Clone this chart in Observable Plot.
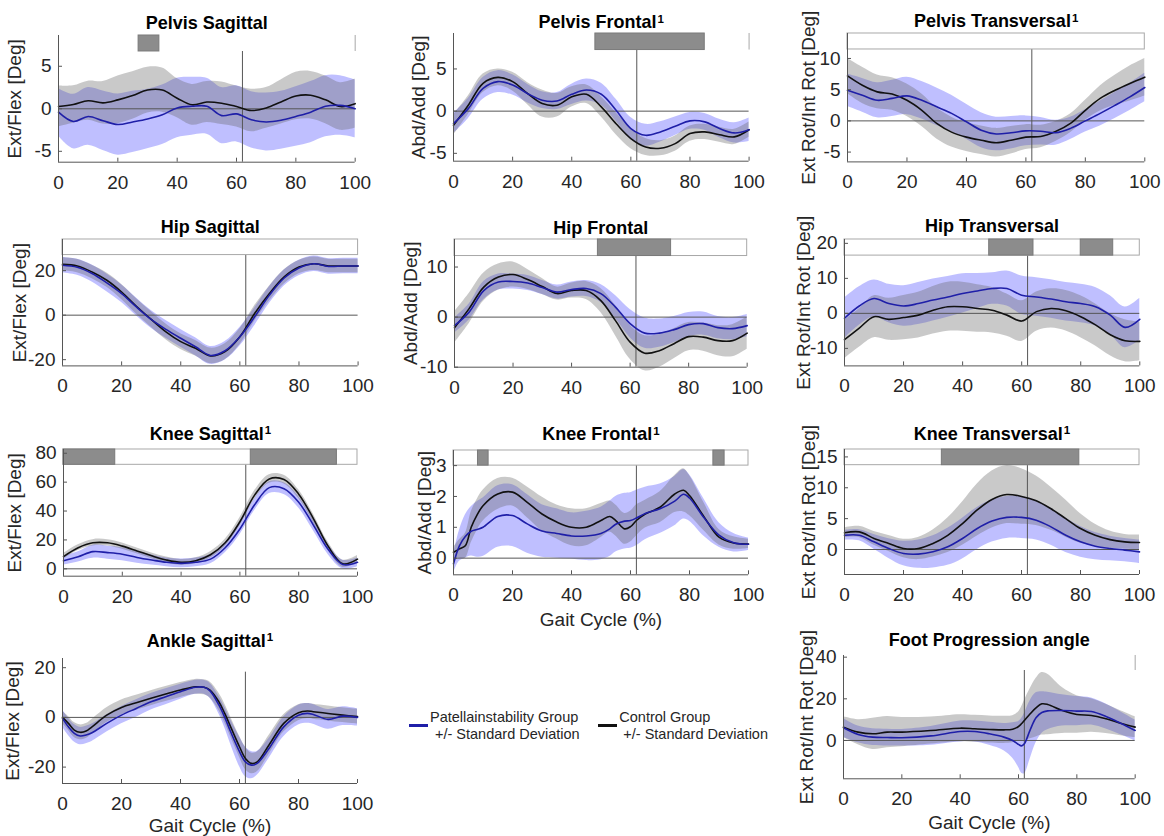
<!DOCTYPE html>
<html><head><meta charset="utf-8">
<script src="https://cdn.jsdelivr.net/npm/d3@7"></script>
<script src="https://cdn.jsdelivr.net/npm/@observablehq/plot@0.6"></script>
<style>
body{margin:0;background:#fff;}
#root{position:relative;width:1164px;height:836px;overflow:hidden;font-family:"Liberation Sans",Arial,sans-serif;background:#fff;}
.panel{position:absolute;}
.lg{position:absolute;font-size:14.5px;line-height:15px;color:#262626;white-space:nowrap;}
.sw{position:absolute;height:3px;width:19px;}
</style></head><body><div id="root"></div>
<script>
// ---------- shared axes values ----------
const gaitX = [0,5,10,15,20,25,30,35,40,45,50,55,60,65,70,75,80,85,90,95,100];
const xTicks = [0,20,40,60,80,100];
const xDomain = [0,100];
const toeOff = 62;

// ---------- Pelvis Sagittal ----------
const pelvisSagPatMean = [-0.4,-1.5,-0.9,-1.4,-1.85,-1.55,-1.2,-0.7,0.1,0.3,0.3,-0.8,-0.6,-1.3,-1.55,-1.35,-0.9,-0.4,0.3,0.4,0.0];
const pelvisSagPatSD   = [2.8,3.2,3.4,3.5,3.6,3.6,3.5,3.5,3.5,3.4,3.3,3.3,3.3,3.3,3.4,3.4,3.5,3.6,3.6,3.5,3.4];
const pelvisSagConMean = [0.27,0.5,0.95,0.7,1.05,1.56,2.2,2.2,1.25,0.47,0.8,0.66,0.27,-0.2,0.1,0.8,1.5,1.6,1.05,0.27,0.6];
const pelvisSagConSD   = [2.4,2.2,2.3,2.5,2.8,2.8,2.7,2.6,2.3,2.4,2.4,2.5,2.4,2.5,2.4,2.6,2.8,2.8,2.8,2.8,2.9];
const pelvisSagTicks = [-5,0,5];
const pelvisSagSig = [[27,34]];

// ---------- Pelvis Frontal ----------
const pelvisFrontPatMean = [-1.47,0.3,2.7,3.5,3.1,2.1,1.3,1.2,2.0,2.5,2.0,0.1,-2.06,-2.86,-2.46,-1.8,-1.15,-1.27,-2.06,-2.58,-2.2];
const pelvisFrontPatSD   = [1.2,1.2,1.3,1.3,1.2,1.1,1.0,1.0,1.2,1.3,1.3,1.3,1.3,1.3,1.2,1.1,1.0,1.0,1.1,1.2,1.4];
const pelvisFrontConMean = [-1.67,0.7,3.3,4.0,3.5,2.1,0.9,0.7,1.7,2.0,0.5,-1.5,-3.25,-4.25,-4.4,-3.85,-2.66,-2.46,-2.8,-3.05,-2.2];
const pelvisFrontConSD   = [1.2,1.1,1.1,1.0,1.1,1.3,1.6,1.4,1.2,1.1,1.2,1.3,1.2,1.0,0.9,0.9,0.9,0.9,0.9,0.9,0.9];
const pelvisFrontTicks = [-5,0,5];
const pelvisFrontSig = [[48,85]];

// ---------- Pelvis Transversal ----------
const pelvisTransPatMean = [4.9,4.1,3.3,3.6,4.0,3.3,2.25,1.2,-0.15,-1.5,-2.1,-1.9,-1.6,-1.65,-1.9,-1.2,0,1.2,2.5,3.85,5.35];
const pelvisTransPatSD   = [2.6,2.7,2.8,2.9,3.0,3.0,3.0,2.9,2.8,2.8,2.7,2.6,2.4,2.2,2.0,1.8,1.8,2.0,2.1,2.2,2.3];
const pelvisTransConMean = [7.2,5.7,4.65,4.3,3.3,1.7,-0.4,-1.8,-2.6,-3.1,-3.5,-3.1,-2.6,-2.5,-1.7,-0.4,1.7,3.6,4.9,6.0,7.0];
const pelvisTransConSD   = [2.8,2.9,2.7,2.6,2.6,2.6,2.5,2.4,2.3,2.3,2.3,2.2,2.0,1.8,1.6,1.5,1.6,2.0,2.4,2.8,3.0];
const pelvisTransTicks = [-5,0,5,10];
const pelvisTransSig = [];

// ---------- Hip Sagittal ----------
const hipSagPatMean = [22.4,21.5,18.7,14.5,9.7,3.7,-1.9,-6.4,-10.4,-14.2,-18.1,-16.0,-9.7,-0.75,9.0,16.7,21.2,23.1,21.9,22.1,22.1];
const hipSagPatSD   = [3.5,3.6,3.8,4.0,4.0,4.0,4.0,4.0,4.0,4.0,4.0,4.2,4.2,4.0,3.8,3.6,3.5,3.5,3.5,3.5,3.5];
const hipSagConMean = [22.8,22.1,19.4,15.7,10.4,4.0,-1.9,-7.5,-11.9,-14.9,-18.3,-16.4,-9.7,0.75,9.7,17.2,21.6,23.1,22.1,22.1,22.1];
const hipSagConSD   = [3.0,3.0,3.0,3.2,3.4,3.5,3.5,3.5,3.5,3.5,3.5,3.6,3.6,3.5,3.3,3.2,3.0,3.0,3.0,3.0,3.0];
const hipSagTicks = [-20,0,20];
const hipSagSig = [];

// ---------- Hip Frontal ----------
const hipFrontPatMean = [-1.7,1.0,5.3,7.0,7.1,6.8,5.9,5.0,5.5,5.7,4.7,2.0,-1.3,-3.2,-3.2,-2.5,-1.5,-1.3,-2.1,-2.3,-1.7];
const hipFrontPatSD   = [1.5,1.6,1.8,1.6,1.5,1.5,1.4,1.4,1.5,1.6,1.8,2.3,2.8,3.0,2.8,2.6,2.4,2.3,2.2,2.2,2.2];
const hipFrontConMean = [-2.1,1.7,6.0,8.0,8.5,7.5,6.1,4.7,5.3,5.3,3.3,-0.7,-5.0,-7.2,-6.7,-5.3,-3.9,-4.0,-4.7,-4.7,-3.2];
const hipFrontConSD   = [3.1,3.0,2.8,2.6,2.5,2.0,1.6,1.3,1.5,1.8,2.4,3.0,3.4,3.5,3.3,3.0,2.8,2.8,3.0,3.2,3.2];
const hipFrontTicks = [-10,0,10];
const hipFrontSig = [[49,74]];

// ---------- Hip Transversal ----------
const hipTransPatMean = [-1.4,2.1,4.25,2.8,2.1,2.8,3.8,4.7,5.7,6.4,7.1,7.1,5.2,4.7,4.1,3.3,2.8,1.9,-0.5,-4.0,-1.7];
const hipTransPatSD   = [5.8,5.5,5.3,5.5,5.8,6.0,6.0,5.8,5.6,5.0,4.5,5.0,5.5,5.5,5.5,5.5,5.5,5.5,5.5,5.8,6.0];
const hipTransConMean = [-7.5,-4.2,-0.95,-1.7,-1.2,-0.5,0.9,1.9,1.9,1.4,0.9,-0.5,-2.2,0.5,1.4,0.75,-0.95,-3.3,-6.1,-7.8,-8.0];
const hipTransConSD   = [5.5,5.5,6.0,6.0,6.3,6.5,6.8,7.0,7.0,6.8,6.5,6.0,5.8,5.6,5.6,5.8,6.0,6.0,6.0,6.0,5.5];
const hipTransTicks = [-10,0,10,20];
const hipTransSig = [[49,64],[80,91]];

// ---------- Knee Sagittal ----------
const kneeSagPatMean = [5.6,8.3,11.9,11.2,10.1,7.9,6.1,4.5,3.8,4.5,6.7,14.6,27.6,44.3,56.2,55.5,46.1,30.3,13.5,3.0,4.5];
const kneeSagPatSD   = [3.0,3.5,4.5,4.5,4.5,4.0,3.5,3.0,3.0,3.0,3.2,3.5,4.0,4.0,4.0,4.0,4.0,4.0,3.5,3.0,3.0];
const kneeSagConMean = [8.5,14.6,18.0,18.0,15.7,12.4,9.0,6.1,4.5,5.6,9.7,18.0,32.6,51.0,62.2,61.8,51.7,34.8,15.7,3.5,6.7];
const kneeSagConSD   = [2.0,2.0,2.2,2.2,2.2,2.0,2.0,2.0,2.0,2.0,2.2,2.5,2.8,3.0,3.0,3.0,3.0,3.0,2.8,2.5,2.5];
const kneeSagTicks = [0,20,40,60,80];
const kneeSagSig = [[0,17.6],[63.7,93]];

// ---------- Knee Frontal ----------
const kneeFrontX = [0,2,4,6,8,10,15,20,25,30,35,40,45,50,53,55,58,60,62,65,70,75,78,80,85,90,95,100];
const kneeFrontPatMean = [-0.18,0.4,0.7,0.87,0.93,1.0,1.35,1.38,1.11,0.88,0.8,0.72,0.72,0.8,0.95,1.1,1.2,1.22,1.3,1.45,1.6,1.85,2.07,1.95,1.3,0.75,0.5,0.45];
const kneeFrontPatSD   = [0.3,0.5,0.7,0.8,0.9,0.95,1.0,1.0,0.95,0.85,0.8,0.75,0.8,0.85,0.9,0.9,0.9,0.9,0.9,0.85,0.8,0.8,0.8,0.75,0.6,0.4,0.3,0.2];
const kneeFrontConMean = [0.19,0.3,0.4,1.0,1.4,1.7,2.08,2.14,1.81,1.43,1.17,1.0,1.0,1.22,1.35,1.22,0.95,1.02,1.22,1.43,1.65,2.08,2.2,2.03,1.33,0.68,0.49,0.46];
const kneeFrontConSD   = [0.15,0.3,0.4,0.5,0.5,0.5,0.5,0.45,0.5,0.55,0.55,0.6,0.6,0.55,0.5,0.5,0.5,0.5,0.5,0.45,0.5,0.6,0.7,0.65,0.45,0.25,0.2,0.15];
const kneeFrontTicks = [0,1,2,3];
const kneeFrontSig = [[8.3,11.9],[88.1,91.9]];

// ---------- Knee Transversal ----------
const kneeTransPatMean = [2.3,2.3,1.24,0.16,-0.65,-0.75,-0.38,0.43,1.78,3.4,4.6,5.2,5.2,4.75,3.67,2.3,1.24,0.54,0.16,-0.1,-0.38];
const kneeTransPatSD   = [0.8,0.9,1.2,1.6,2.0,2.3,2.6,3.0,3.3,3.4,3.4,3.4,3.4,3.2,3.0,2.8,2.5,2.2,2.0,1.9,1.9];
const kneeTransConMean = [2.7,2.85,1.8,0.97,0.16,0.16,0.97,2.3,4.2,6.4,8.1,8.9,8.6,7.9,6.6,5.0,3.4,2.3,1.6,1.24,1.13];
const kneeTransConSD   = [0.8,0.9,1.1,1.3,1.5,1.8,2.2,2.8,3.5,4.2,4.6,4.7,4.5,4.0,3.5,3.0,2.4,1.8,1.4,1.2,1.2];
const kneeTransTicks = [0,5,10,15];
const kneeTransSig = [[33,79.6]];

// ---------- Ankle Sagittal ----------
const ankleX = [0,2,4,6,8,10,15,20,25,30,35,40,45,48,50,53,55,57,60,62,64,66,70,75,80,83,85,90,95,100];
const anklePatMean = [-0.4,-3.8,-6.4,-7.5,-7.1,-6.2,-2.4,0.9,3.6,6.3,8.3,10.3,12.1,12.1,10.7,5.0,0,-5.8,-13.8,-17.9,-19.2,-18.5,-12.5,-3.8,0.9,1.6,1.2,-0.8,0.5,0];
const anklePatSD   = [3.5,3.5,3.5,3.5,3.5,3.5,3.5,3.5,3.5,3.3,3.2,3.0,2.8,2.8,3.0,3.5,4.2,5.0,6.0,6.0,5.5,4.8,4.0,4.0,4.0,4.0,4.0,4.0,3.8,3.5];
const ankleConMean = [0,-2.4,-5.1,-6.0,-5.5,-3.8,0.9,4.0,5.9,7.7,9.4,11.0,12.3,12.1,11.0,6.3,1.6,-3.8,-11.8,-16.5,-18.5,-17.9,-11.1,-2.4,1.9,2.6,2.3,1.6,0.9,0.3];
const ankleConSD   = [2.5,2.8,3.0,3.0,3.0,3.0,3.0,3.0,3.0,3.0,3.0,3.0,3.0,3.0,3.2,3.5,3.8,4.0,4.2,4.5,4.2,4.0,3.8,3.5,3.2,3.0,3.0,3.0,3.0,3.0];
const ankleTicks = [-20,0,20];
const ankleSig = [];

// ---------- Foot Progression ----------
const footX = [0,5,10,15,20,30,40,45,50,55,58,60,61,62,64,66,68,70,75,80,85,90,95,100];
const footPatMean = [6.1,2.9,1.6,1.4,1.3,2.2,4.3,4.3,3.2,1.6,0,-1.9,-2.6,-1.6,5.1,10.9,13.4,14.2,14.4,14.1,13.9,11.5,8.3,4.8];
const footPatSD   = [4.5,4.0,4.0,4.0,4.0,4.5,5.0,5.0,5.5,6.5,8.5,11,13,14.5,14,12,10,9,7.5,7,6.5,6,5.5,5];
const footConMean = [6.4,4.0,3.2,4.0,4.0,4.8,5.9,5.6,5.3,5.1,5.4,6.7,8.0,9.6,12.8,15.7,17.6,17.3,14.4,12.5,12.0,10.4,8.3,6.4];
const footConSD   = [5.0,6.0,7.5,7.5,7.0,6.5,6.5,6.5,6.5,6.5,6.5,7.0,8.0,9.5,12,14,15,14.5,11,9,8,7,6,5];
const footTicks = [0,20,40];
const footSig = [];

// ---------- layout (positions / styles) ----------
const panels = [
  {title:"Pelvis Sagittal", sup:"", ylabel:"Ext/Flex [Deg]", x:gaitX, pm:pelvisSagPatMean, ps:pelvisSagPatSD, cm:pelvisSagConMean, cs:pelvisSagConSD, ticks:pelvisSagTicks, sig:pelvisSagSig,
   L:58.3,R:355,T:35,B:161.7,yMin:-6.28,yMax:8.62,stripLo:6.74,titleBase:28.3,ylabDx:-37.3,box:"right"},
  {title:"Pelvis Frontal", sup:"1", ylabel:"Abd/Add [Deg]", x:gaitX, pm:pelvisFrontPatMean, ps:pelvisFrontPatSD, cm:pelvisFrontConMean, cs:pelvisFrontConSD, ticks:pelvisFrontTicks, sig:pelvisFrontSig,
   L:452.7,R:748.3,T:33.3,B:161,yMin:-5.93,yMax:9.2,stripLo:7.24,titleBase:28.3,ylabDx:-28.7,box:"right"},
  {title:"Pelvis Transversal", sup:"1", ylabel:"Ext Rot/Int Rot [Deg]", x:gaitX, pm:pelvisTransPatMean, ps:pelvisTransPatSD, cm:pelvisTransConMean, cs:pelvisTransConSD, ticks:pelvisTransTicks, sig:pelvisTransSig,
   L:846.7,R:1144,T:33.3,B:161.7,yMin:-6.57,yMax:14.0,stripLo:11.44,titleBase:27.3,ylabDx:-32.4,box:"full"},
  {title:"Hip Sagittal", sup:"", ylabel:"Ext/Flex [Deg]", x:gaitX, pm:hipSagPatMean, ps:hipSagPatSD, cm:hipSagConMean, cs:hipSagConSD, ticks:hipSagTicks, sig:hipSagSig,
   L:61.7,R:357.3,T:239.3,B:365.7,yMin:-22.8,yMax:34.0,stripLo:27.0,titleBase:233.3,ylabDx:-36.4,box:"full"},
  {title:"Hip Frontal", sup:"", ylabel:"Abd/Add [Deg]", x:gaitX, pm:hipFrontPatMean, ps:hipFrontPatSD, cm:hipFrontConMean, cs:hipFrontConSD, ticks:hipFrontTicks, sig:hipFrontSig,
   L:454,R:746.7,T:239,B:366.7,yMin:-10,yMax:15.5,stripLo:12.2,titleBase:233.3,ylabDx:-37.7,box:"full"},
  {title:"Hip Transversal", sup:"", ylabel:"Ext Rot/Int Rot [Deg]", x:gaitX, pm:hipTransPatMean, ps:hipTransPatSD, cm:hipTransConMean, cs:hipTransConSD, ticks:hipTransTicks, sig:hipTransSig,
   L:844,R:1139.3,T:239.3,B:365.7,yMin:-15,yMax:21.1,stripLo:16.5,titleBase:231.7,ylabDx:-34.4,box:"full"},
  {title:"Knee Sagittal", sup:"1", ylabel:"Ext/Flex [Deg]", x:gaitX, pm:kneeSagPatMean, ps:kneeSagPatSD, cm:kneeSagConMean, cs:kneeSagConSD, ticks:kneeSagTicks, sig:kneeSagSig,
   L:62.7,R:356.7,T:449,B:575.7,yMin:-5.1,yMax:82.6,stripLo:72,titleBase:439.3,ylabDx:-42.4,box:"full"},
  {title:"Knee Frontal", sup:"1", ylabel:"Abd/Add [Deg]", x:kneeFrontX, pm:kneeFrontPatMean, ps:kneeFrontPatSD, cm:kneeFrontConMean, cs:kneeFrontConSD, ticks:kneeFrontTicks, sig:kneeFrontSig,
   L:453.3,R:748.3,T:450,B:574.3,yMin:-0.54,yMax:3.49,stripLo:3.0,titleBase:440,ylabDx:-22.3,box:"full",xlabelBase:625.3},
  {title:"Knee Transversal", sup:"1", ylabel:"Ext Rot/Int Rot [Deg]", x:gaitX, pm:kneeTransPatMean, ps:kneeTransPatSD, cm:kneeTransConMean, cs:kneeTransConSD, ticks:kneeTransTicks, sig:kneeTransSig,
   L:844,R:1139,T:449.3,B:574.3,yMin:-4.05,yMax:16.2,stripLo:13.66,titleBase:439.3,ylabDx:-29.7,box:"full"},
  {title:"Ankle Sagittal", sup:"1", ylabel:"Ext/Flex [Deg]", x:ankleX, pm:anklePatMean, ps:anklePatSD, cm:ankleConMean, cs:ankleConSD, ticks:ankleTicks, sig:ankleSig,
   L:61.7,R:356.7,T:658.3,B:783.3,yMin:-26.6,yMax:23.7,stripLo:18.3,titleBase:646.7,ylabDx:-44,box:"none",xlabelBase:831.5},
  {title:"Foot Progression angle", sup:"", ylabel:"Ext Rot/Int Rot [Deg]", x:footX, pm:footPatMean, ps:footPatSD, cm:footConMean, cs:footConSD, ticks:footTicks, sig:footSig,
   L:843.3,R:1135,T:655,B:778.3,yMin:-18.4,yMax:40.8,stripLo:33.6,titleBase:646,ylabDx:-30.3,box:"right",xlabelBase:828.3}
];

const root = document.getElementById("root");
const curve = "catmull-rom";
const axisColor = "#555";
const textColor = "#262626";
const fontStack = "'Liberation Sans', Arial, sans-serif";
const measureCtx = document.createElement("canvas").getContext("2d");
function textWidth(s, font) { measureCtx.font = font; return measureCtx.measureText(s).width; }

function addPanel(p) {
  const mL = 70, mR = 20, mT = 45, mB = 62;
  const W = p.R - p.L, H = p.B - p.T;
  const rows = p.x.map((x, i) => ({
    x, pm: p.pm[i], plo: p.pm[i] - p.ps[i], phi: p.pm[i] + p.ps[i],
    cm: p.cm[i], clo: p.cm[i] - p.cs[i], chi: p.cm[i] + p.cs[i]
  }));
  const marks = [
    Plot.areaY(rows, {x: "x", y1: "plo", y2: "phi", fill: "#0000ff", fillOpacity: 0.25, curve}),
    Plot.areaY(rows, {x: "x", y1: "clo", y2: "chi", fill: "#646464", fillOpacity: 0.35, curve}),
    Plot.ruleY([0], {x1: () => xDomain[0], x2: () => xDomain[1], stroke: axisColor, strokeWidth: 1}),
    Plot.ruleX([toeOff], {y1: () => p.yMin, y2: () => p.stripLo, stroke: axisColor, strokeWidth: 1}),
    Plot.line(rows, {x: "x", y: "cm", stroke: "#111", strokeWidth: 1.6, curve}),
    Plot.line(rows, {x: "x", y: "pm", stroke: "#1f1fa8", strokeWidth: 1.6, curve})
  ];
  // significance strip
  marks.push(Plot.rect([p], {x1: () => xDomain[0], x2: () => xDomain[1], y1: d => d.stripLo, y2: d => d.yMax,
    fill: "white", stroke: p.box === "full" ? "#a8a8a8" : "none"}));
  if (p.box === "right") marks.push(Plot.ruleX([xDomain[1]], {y1: () => p.stripLo, y2: () => p.yMax, stroke: "#a8a8a8"}));
  marks.push(Plot.rect(p.sig, {x1: d => d[0], x2: d => d[1], y1: () => p.stripLo, y2: () => p.yMax, fill: "#8c8c8c", stroke: "#7a7a7a"}));
  // axes lines and inward ticks
  marks.push(
    Plot.ruleX([xDomain[0]], {y1: () => p.yMin, y2: () => p.yMax, stroke: axisColor}),
    Plot.ruleY([p.yMin], {x1: () => xDomain[0], x2: () => xDomain[1], stroke: axisColor}),
    Plot.ruleX(xTicks, {insetTop: H - 4, stroke: axisColor}),
    Plot.ruleY(p.ticks, {insetRight: W - 4, stroke: axisColor}),
    Plot.axisX(xTicks, {tickSize: 0, tickPadding: 13, tickFormat: d => `${d}`, label: null}),
    Plot.axisY(p.ticks, {tickSize: 0, tickPadding: 7, tickFormat: d => `${d}`, label: null}),
    Plot.text([p.ylabel], {text: d => d, frameAnchor: "left", textAnchor: "middle", rotate: -90, dx: p.ylabDx, lineAnchor: "bottom",
      fontSize: 19, fill: textColor})
  );
  // title with optional superscript
  const tw = textWidth(p.title, `bold 18px ${fontStack}`);
  const sw = p.sup ? textWidth(p.sup, `bold 11.5px ${fontStack}`) + 1 : 0;
  const start = -(tw + sw) / 2;
  marks.push(Plot.text([p.title], {text: d => d, frameAnchor: "top", textAnchor: "start", dx: start, dy: p.titleBase - p.T,
    lineAnchor: "bottom", fontSize: 18, fontWeight: "bold", fill: "#000"}));
  if (p.sup) marks.push(Plot.text([p.sup], {text: d => d, frameAnchor: "top", textAnchor: "start", dx: start + tw + 1,
    dy: p.titleBase - p.T - 5.5, lineAnchor: "bottom", fontSize: 11.5, fontWeight: "bold", fill: "#000"}));
  if (p.xlabelBase) marks.push(Plot.text(["Gait Cycle (%)"], {text: d => d, frameAnchor: "bottom", textAnchor: "middle",
    dy: p.xlabelBase - p.B, lineAnchor: "bottom", fontSize: 19, fill: textColor}));

  const width = W + mL + mR, height = H + mT + mB;
  const svg = Plot.plot({
    width, height, marginLeft: mL, marginRight: mR, marginTop: mT, marginBottom: mB,
    x: {domain: xDomain}, y: {domain: [p.yMin, p.yMax]},
    style: {background: "transparent", overflow: "visible", maxWidth: "none",
      fontFamily: fontStack, fontSize: "19px", color: textColor},
    marks
  });
  const div = document.createElement("div");
  div.className = "panel";
  div.style.left = (p.L - mL) + "px";
  div.style.top = (p.T - mT) + "px";
  div.style.width = width + "px";
  div.style.height = height + "px";
  div.append(svg);
  root.append(div);
}
panels.forEach(addPanel);

// ---------- legend ----------
const legendItems = [
  {color: "#1f1fa8", name: "Patellainstability Group", sx: 409, tx: 430, t2x: 435},
  {color: "#111", name: "Control Group", sx: 598, tx: 619.3, t2x: 623.3}
];
legendItems.forEach(it => {
  const sw = document.createElement("div");
  sw.className = "sw"; sw.style.left = it.sx + "px"; sw.style.top = "723.5px"; sw.style.background = it.color;
  root.append(sw);
  const t1 = document.createElement("div");
  t1.className = "lg"; t1.style.left = it.tx + "px"; t1.style.top = "709.5px"; t1.textContent = it.name;
  root.append(t1);
  const t2 = document.createElement("div");
  t2.className = "lg"; t2.style.left = it.t2x + "px"; t2.style.top = "726.5px"; t2.textContent = "+/- Standard Deviation";
  root.append(t2);
});
</script></body></html>
